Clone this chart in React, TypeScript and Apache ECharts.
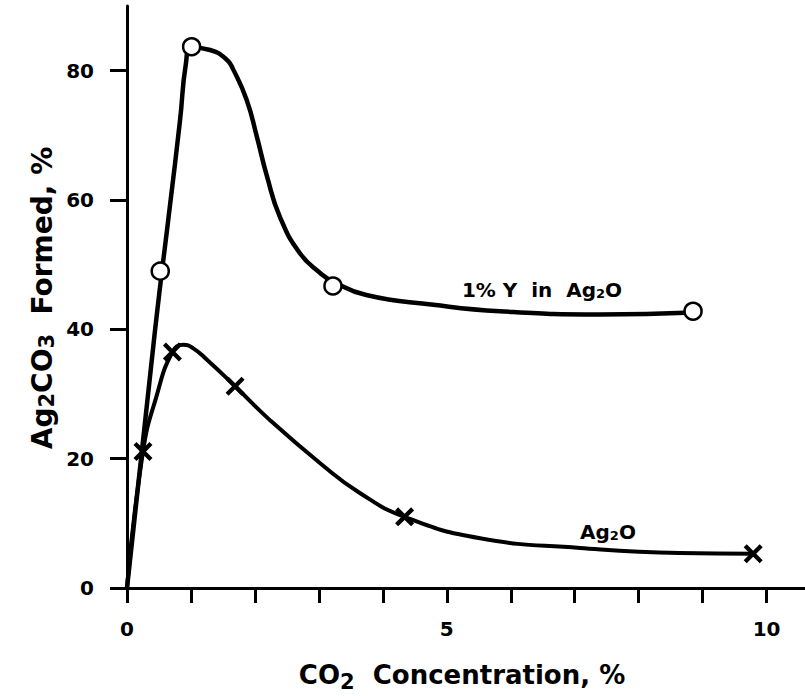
import React, { useEffect, useRef } from "react";
import * as echarts from "echarts";

// Axis ticks / labels
const xTickValues = [0, 1, 2, 3, 4, 5, 6, 7, 8, 9, 10];
const xLabelValues = [0, 5, 10];
const yTickValues = [0, 20, 40, 60, 80];

// Measured points: 1% Y in Ag2O (open circles)
const circleX = [0.52, 1.01, 3.22, 8.85];
const circleY = [49.0, 83.7, 46.7, 42.8];

// Measured points: Ag2O (crosses)
const crossX = [0.25, 0.71, 1.69, 4.34, 9.79];
const crossY = [21.1, 36.5, 31.2, 11.0, 5.3];

// Hand-drawn curve: 1% Y in Ag2O
const yCurveX = [0, 0.44, 0.67, 0.83, 0.92, 1.01, 1.3, 1.56, 1.66, 1.87, 2.03, 2.19, 2.39, 2.7, 3.02, 3.22, 3.74, 4.79, 5.83, 7.39, 8.85];
const yCurveY = [0, 40, 59, 72.4, 81.0, 83.6, 83.2, 81.7, 80.2, 75.5, 69.8, 63.6, 57.4, 51.8, 48.7, 47.4, 45.3, 43.8, 42.8, 42.3, 42.6];

// Hand-drawn curve: Ag2O
const agCurveX = [0, 0.25, 0.46, 0.71, 0.88, 1.03, 1.25, 1.69, 2.23, 3.02, 3.64, 4.34, 5.52, 7.08, 8.64, 9.79];
const agCurveY = [0, 21.1, 29.6, 36.5, 37.6, 37.1, 35.3, 31.2, 26.0, 19.3, 14.7, 11.0, 7.7, 6.2, 5.4, 5.3];

const zip = (xs: number[], ys: number[]) => xs.map((x, i) => [x, ys[i]]);

const FONT = "'DejaVu Sans', 'Liberation Sans', sans-serif";
const INK = "#000";

const crossPath =
  "path://M0,1.6 L1.6,0 L5,3.4 L8.4,0 L10,1.6 L6.6,5 L10,8.4 L8.4,10 L5,6.6 L1.6,10 L0,8.4 L3.4,5 Z";

export default function App() {
  const ref = useRef<HTMLDivElement>(null);

  useEffect(() => {
    if (!ref.current) return;
    const chart = echarts.init(ref.current, undefined, { renderer: "svg" });
    chart.setOption({
      animation: false,
      backgroundColor: "#fff",
      grid: { left: 127, right: 0, top: 6, bottom: 108, containLabel: false },
      xAxis: {
        type: "value",
        min: 0,
        max: 10.6,
        splitLine: { show: false },
        axisLine: { show: true, onZero: false, lineStyle: { color: INK, width: 3 } },
        axisTick: {
          show: true,
          inside: false,
          length: 15,
          customValues: xTickValues,
          lineStyle: { color: INK, width: 3 },
        },
        axisLabel: {
          customValues: xLabelValues,
          margin: 31,
          color: INK,
          fontFamily: FONT,
          fontWeight: "bold",
          fontSize: 20,
        },
      },
      yAxis: {
        type: "value",
        min: 0,
        max: 90,
        splitLine: { show: false },
        axisLine: { show: true, onZero: false, lineStyle: { color: INK, width: 3 } },
        axisTick: {
          show: true,
          inside: false,
          length: 17,
          customValues: yTickValues,
          lineStyle: { color: INK, width: 3 },
        },
        axisLabel: {
          customValues: yTickValues,
          margin: 33,
          color: INK,
          fontFamily: FONT,
          fontWeight: "bold",
          fontSize: 20,
        },
      },
      graphic: [
        {
          type: "text",
          x: 42,
          y: 298,
          rotation: Math.PI / 2,
          style: {
            text: "Ag{s|2}CO{s|3}  Formed, %",
            fontFamily: FONT,
            fontWeight: "bold",
            fontSize: 28,
            fill: INK,
            align: "center",
            verticalAlign: "middle",
            rich: {
              s: {
                fontFamily: FONT,
                fontWeight: "bold",
                fontSize: 21,
                fill: INK,
                padding: [10, 0, 0, 0],
              },
            },
          },
        },
        {
          type: "text",
          x: 462,
          y: 675,
          style: {
            text: "CO{s|2}  Concentration, %",
            fontFamily: FONT,
            fontWeight: "bold",
            fontSize: 26,
            fill: INK,
            align: "center",
            verticalAlign: "middle",
            rich: {
              s: {
                fontFamily: FONT,
                fontWeight: "bold",
                fontSize: 21,
                fill: INK,
                padding: [14, 0, 0, 0],
              },
            },
          },
        },
        {
          type: "text",
          x: 542,
          y: 290,
          style: {
            text: "1% Y  in  Ag{s|2}O",
            fontFamily: FONT,
            fontWeight: "bold",
            fontSize: 20,
            fill: INK,
            align: "center",
            verticalAlign: "middle",
            rich: {
              s: { fontFamily: FONT, fontWeight: "bold", fontSize: 13, fill: INK, padding: [6, 0, 0, 0] },
            },
          },
        },
        {
          type: "text",
          x: 608,
          y: 532,
          style: {
            text: "Ag{s|2}O",
            fontFamily: FONT,
            fontWeight: "bold",
            fontSize: 20,
            fill: INK,
            align: "center",
            verticalAlign: "middle",
            rich: {
              s: { fontFamily: FONT, fontWeight: "bold", fontSize: 13, fill: INK, padding: [6, 0, 0, 0] },
            },
          },
        },
      ],
      series: [
        {
          type: "line",
          name: "1% Y in Ag2O curve",
          data: zip(yCurveX, yCurveY),
          showSymbol: false,
          smooth: 0.5,
          lineStyle: { color: INK, width: 4.5 },
          z: 2,
        },
        {
          type: "line",
          name: "Ag2O curve",
          data: zip(agCurveX, agCurveY),
          showSymbol: false,
          smooth: 0.5,
          lineStyle: { color: INK, width: 4 },
          z: 2,
        },
        {
          type: "scatter",
          name: "1% Y in Ag2O",
          data: zip(circleX, circleY),
          symbol: "circle",
          symbolSize: 17,
          itemStyle: { color: "#fff", borderColor: INK, borderWidth: 2.5, opacity: 1 },
          z: 5,
        },
        {
          type: "scatter",
          name: "Ag2O",
          data: zip(crossX, crossY),
          symbol: crossPath,
          symbolSize: 19,
          itemStyle: { color: INK, opacity: 1 },
          z: 5,
        },
      ],
    });
    return () => chart.dispose();
  }, []);

  return (
    <div
      ref={ref}
      style={{ position: "fixed", left: 0, top: 0, width: 805, height: 696, background: "#fff" }}
    />
  );
}
